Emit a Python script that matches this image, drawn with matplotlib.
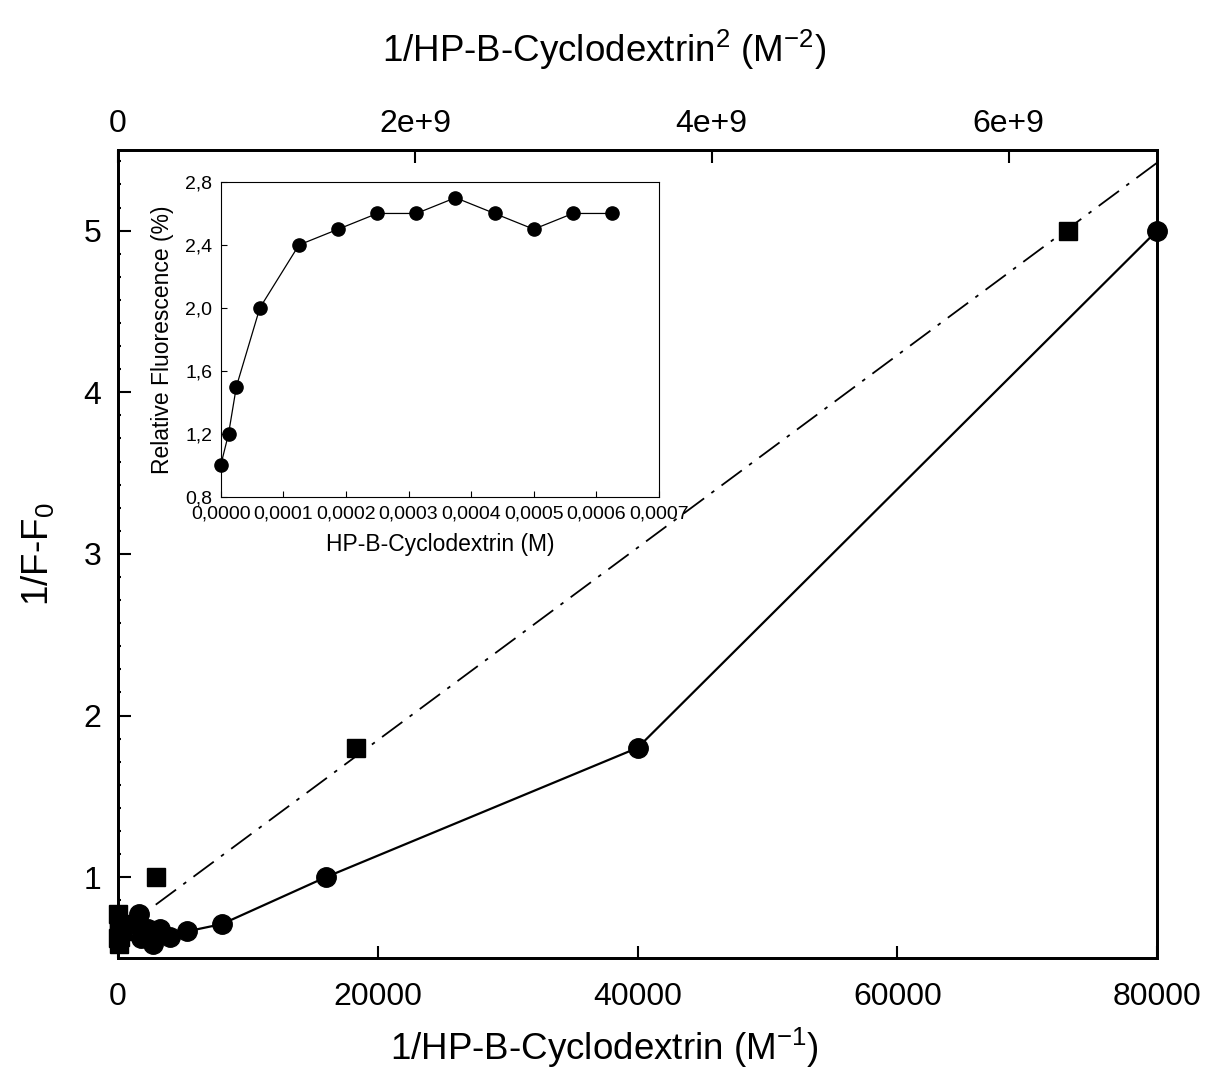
import matplotlib
matplotlib.use('Agg')

import matplotlib.pyplot as plt
from matplotlib.ticker import MultipleLocator, FixedLocator, FuncFormatter

plt.rcParams['font.family'] = ['Liberation Sans', 'DejaVu Sans']
plt.rcParams['mathtext.fontset'] = 'custom'
plt.rcParams['mathtext.rm'] = 'Liberation Sans'
plt.rcParams['mathtext.it'] = 'Liberation Sans'

# ===== DATA =====
# 1/[HP-B-CD] (M^-1) vs 1/(F-F0)  -> circles, bottom axis
inv_conc = [80000, 40000, 16000, 8000, 5333, 4000, 3200, 2667, 2286, 2000, 1778, 1600]
inv_dF = [5.0, 1.8, 1.0, 0.71, 0.665, 0.63, 0.68, 0.585, 0.68, 0.667, 0.625, 0.77]

# 1/[HP-B-CD]^2 (M^-2) vs 1/(F-F0)  -> squares, top axis
inv_conc2 = [6.4e9, 1.6e9, 2.56e8, 6.4e7, 2.84e7, 1.6e7, 1.02e7, 7.1e6, 5.2e6, 4.0e6, 3.16e6, 2.56e6]
inv_dF2 = [5.0, 1.8, 1.0, 0.71, 0.665, 0.63, 0.68, 0.585, 0.68, 0.667, 0.625, 0.77]

# regression line (dash-dot) for the squares, end points
fit_x = [0, 7.0e9]
fit_y = [0.657, 5.42]

# inset: concentration (M) vs relative fluorescence
conc = [0.0, 0.0000125, 0.000025, 0.0000625, 0.000125, 0.0001875, 0.00025,
        0.0003125, 0.000375, 0.0004375, 0.0005, 0.0005625, 0.000625]
rel_fl = [1.0, 1.2, 1.5, 2.0, 2.4, 2.5, 2.6, 2.6, 2.7, 2.6, 2.5, 2.6, 2.6]

# ===== FIGURE =====
fig = plt.figure(figsize=(12.08, 10.78), dpi=100)
ax = fig.add_axes([0.0977, 0.1113, 0.8601, 0.7497])

ax.plot(inv_conc, inv_dF, 'k-', linewidth=1.6, marker='o', markersize=14,
        markerfacecolor='black', markeredgecolor='black', zorder=3, clip_on=False)

ax.set_xlim(0, 80000)
ax.set_ylim(0.5, 5.5)
ax.set_xticks([0, 20000, 40000, 60000, 80000])
ax.set_yticks([1, 2, 3, 4, 5])
ax.yaxis.set_minor_locator(MultipleLocator(1 / 7))
ax.tick_params(axis='both', which='major', direction='in', length=9, width=1.5,
               labelsize=23, pad=12)
ax.tick_params(axis='y', which='minor', direction='in', length=2.5, width=1.5)
ax.tick_params(axis='x', which='major', pad=17)
ax.set_xlabel('1/HP-B-Cyclodextrin (M$^{-1}$)', fontsize=26.5, labelpad=10)
ax.xaxis.label.set_x(0.468)
ax.set_ylabel('1/F-F$_0$', fontsize=26.5, labelpad=20)
for s in ax.spines.values():
    s.set_linewidth(2)

# top axis
ax2 = ax.twiny()
ax2.plot(inv_conc2, inv_dF2, linestyle='none', marker='s', markersize=13,
         color='black', zorder=3, clip_on=False)
ax2.plot(fit_x, fit_y, color='black', linewidth=1.3, dashes=(14, 5, 2, 5))
ax2.set_xlim(0, 7.0e9)
ax2.set_ylim(0.5, 5.5)
ax2.xaxis.set_major_locator(FixedLocator([0, 2e9, 4e9, 6e9]))
ax2.xaxis.set_major_formatter(FuncFormatter(lambda v, p: '0' if v == 0 else f'{v / 1e9:.0f}e+9'))
ax2.tick_params(axis='x', which='major', direction='in', length=9, width=1.5,
                labelsize=23, pad=8)
ax2.set_xlabel('1/HP-B-Cyclodextrin$^{2}$ (M$^{-2}$)', fontsize=26.5, labelpad=34)
ax2.xaxis.label.set_x(0.468)
for s in ax2.spines.values():
    s.set_linewidth(2)

# ===== INSET =====
axi = fig.add_axes([0.1827, 0.5390, 0.3628, 0.2922])
axi.plot(conc, rel_fl, 'k-', linewidth=0.9, marker='o', markersize=9.5,
         markerfacecolor='black', zorder=3, clip_on=False)
axi.set_xlim(0, 0.0007)
axi.set_ylim(0.8, 2.8)
axi.set_xticks([0, 0.0001, 0.0002, 0.0003, 0.0004, 0.0005, 0.0006, 0.0007])
axi.set_yticks([0.8, 1.2, 1.6, 2.0, 2.4, 2.8])
axi.xaxis.set_major_formatter(FuncFormatter(lambda v, p: f'{v:.4f}'.replace('.', ',')))
axi.yaxis.set_major_formatter(FuncFormatter(lambda v, p: f'{v:.1f}'.replace('.', ',')))
axi.tick_params(axis='both', direction='in', length=4, width=0.8, labelsize=14, pad=6)
axi.set_xlabel('HP-B-Cyclodextrin (M)', fontsize=16.5, labelpad=8)
axi.set_ylabel('Relative Fluorescence (%)', fontsize=16.5, labelpad=8)
for s in axi.spines.values():
    s.set_linewidth(0.8)

plt.savefig('out.png', dpi=100)
print("Saved: out.png")
